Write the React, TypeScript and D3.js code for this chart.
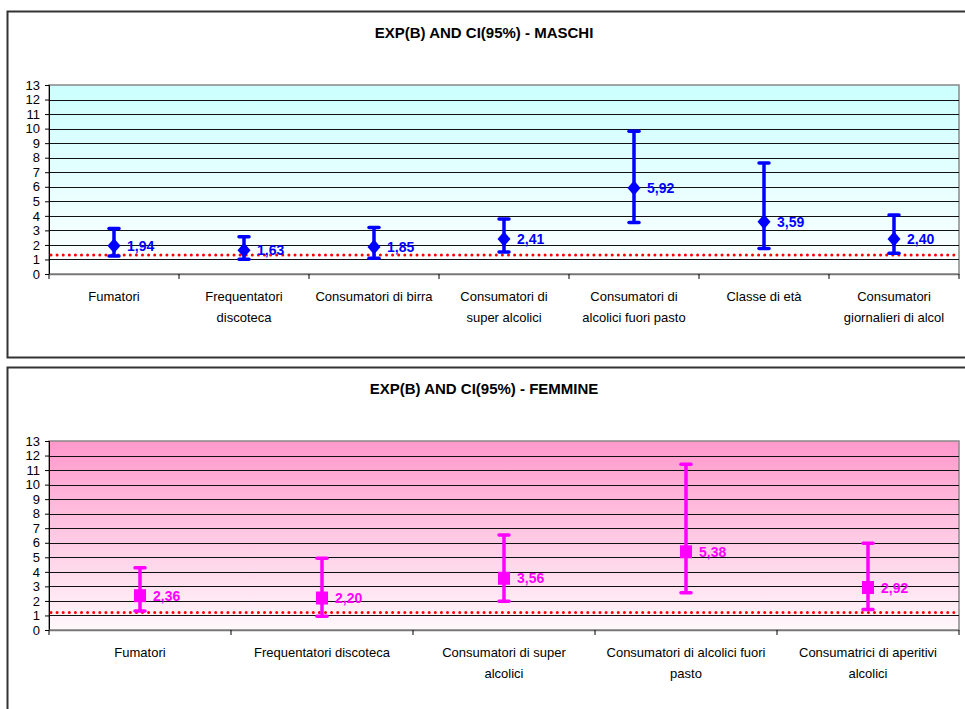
import React, { useRef, useEffect } from 'react';
import * as d3 from 'd3';

// males
const maleCategories = [
  'Fumatori',
  'Frequentatori\ndiscoteca',
  'Consumatori di birra',
  'Consumatori di\nsuper alcolici',
  'Consumatori di\nalcolici fuori pasto',
  'Classe di età',
  'Consumatori\ngiornalieri di alcol',
];
const maleExp = [1.94, 1.63, 1.85, 2.41, 5.92, 3.59, 2.40];
const maleLow = [1.24, 1.02, 1.08, 1.52, 3.55, 1.75, 1.43];
const maleHigh = [3.13, 2.56, 3.2, 3.78, 9.82, 7.63, 4.06];
const maleRef = 1.3;

// females
const femaleCategories = [
  'Fumatori',
  'Frequentatori discoteca',
  'Consumatori di super\nalcolici',
  'Consumatori di alcolici fuori\npasto',
  'Consumatrici di aperitivi\nalcolici',
];
const femaleExp = [2.36, 2.20, 3.56, 5.38, 2.92];
const femaleLow = [1.3, 0.95, 1.98, 2.57, 1.41];
const femaleHigh = [4.28, 4.94, 6.53, 11.4, 5.97];
const femaleRef = 1.2;

const yTicks = d3.range(0, 14);

const FONT = 'Arial, "Liberation Sans", sans-serif';

interface PanelOpts {
  top: number;
  title: string;
  cats: string[];
  exp: number[];
  low: number[];
  high: number[];
  refVal: number;
  color: string;
  gradTop: string;
  gradBottom: string;
  marker: 'diamond' | 'square';
  gradId: string;
}

function drawPanel(svg: d3.Selection<SVGSVGElement, unknown, null, undefined>, o: PanelOpts) {
  const plotLeft = 49;
  const plotRight = 959;
  const plotTop = o.top + 74;
  const plotBottom = o.top + 263;

  const g = svg.append('g');

  // panel frame
  g.append('rect')
    .attr('x', 7.5).attr('y', o.top + 0.5)
    .attr('width', 975).attr('height', 346)
    .attr('fill', '#fff')
    .attr('stroke', '#333').attr('stroke-width', 2);

  g.append('text')
    .attr('x', 484).attr('y', o.top + 27)
    .attr('text-anchor', 'middle')
    .attr('font-family', FONT).attr('font-size', 15).attr('font-weight', 'bold')
    .text(o.title);

  const x = d3.scaleBand().domain(o.cats).range([plotLeft, plotRight]);
  const y = d3.scaleLinear().domain([0, 13]).range([plotBottom, plotTop]);

  const defs = svg.append('defs');
  const grad = defs.append('linearGradient').attr('id', o.gradId)
    .attr('x1', 0).attr('y1', 0).attr('x2', 0).attr('y2', 1);
  grad.append('stop').attr('offset', '0%').attr('stop-color', o.gradTop);
  grad.append('stop').attr('offset', '100%').attr('stop-color', o.gradBottom);

  g.append('rect')
    .attr('x', plotLeft).attr('y', plotTop)
    .attr('width', plotRight - plotLeft).attr('height', plotBottom - plotTop)
    .attr('fill', `url(#${o.gradId})`)
    .attr('stroke', '#888').attr('stroke-width', 1.5);

  // grid lines
  g.selectAll('line.grid')
    .data(yTicks.filter(t => t > 0 && t < 13))
    .enter().append('line')
    .attr('x1', plotLeft).attr('x2', plotRight)
    .attr('y1', d => Math.round(y(d)) + 0.5).attr('y2', d => Math.round(y(d)) + 0.5)
    .attr('stroke', '#111').attr('stroke-width', 1);

  // y axis
  const yAxis = d3.axisLeft(y).tickValues(yTicks).tickSize(4).tickPadding(5);
  const ya = g.append('g').attr('transform', `translate(${plotLeft},0)`).call(yAxis);
  ya.select('.domain').attr('stroke', '#000');
  ya.selectAll('text').attr('font-family', FONT).attr('font-size', 13).attr('fill', '#000');

  // x axis
  const xa = g.append('g').attr('transform', `translate(0,${plotBottom})`);
  xa.append('line').attr('x1', plotLeft).attr('x2', plotRight)
    .attr('y1', 0.5).attr('y2', 0.5).attr('stroke', '#777').attr('stroke-width', 1.5);
  const bounds = o.cats.map(c => x(c) as number).concat([plotRight]);
  xa.selectAll('line.tk').data(bounds).enter().append('line')
    .attr('x1', d => d).attr('x2', d => d).attr('y1', 0).attr('y2', 5)
    .attr('stroke', '#000');
  o.cats.forEach(c => {
    const cx = (x(c) as number) + x.bandwidth() / 2;
    const t = xa.append('text')
      .attr('text-anchor', 'middle')
      .attr('font-family', FONT).attr('font-size', 13).attr('fill', '#000');
    c.split('\n').forEach((line, i) => {
      t.append('tspan').attr('x', cx).attr('y', 27 + i * 21).text(line);
    });
  });

  // reference line
  g.append('line')
    .attr('x1', plotLeft + 2).attr('x2', plotRight)
    .attr('y1', y(o.refVal)).attr('y2', y(o.refVal))
    .attr('stroke', '#ff0000').attr('stroke-width', 3)
    .attr('stroke-linecap', 'round')
    .attr('stroke-dasharray', '0,6.1');

  // error bars
  o.cats.forEach((c, i) => {
    const cx = (x(c) as number) + x.bandwidth() / 2;
    const eg = g.append('g');
    eg.append('line').attr('x1', cx).attr('x2', cx)
      .attr('y1', y(o.low[i])).attr('y2', y(o.high[i]))
      .attr('stroke', o.color).attr('stroke-width', 3.5);
    [o.low[i], o.high[i]].forEach(v => {
      eg.append('line').attr('x1', cx - 5).attr('x2', cx + 5)
        .attr('y1', y(v)).attr('y2', y(v))
        .attr('stroke', o.color).attr('stroke-width', 3.5)
        .attr('stroke-linecap', 'round');
    });
    const cy = y(o.exp[i]);
    if (o.marker === 'diamond') {
      eg.append('path')
        .attr('d', `M${cx},${cy - 7.5}L${cx + 6.5},${cy}L${cx},${cy + 7.5}L${cx - 6.5},${cy}Z`)
        .attr('fill', o.color);
    } else {
      eg.append('rect').attr('x', cx - 6).attr('y', cy - 6.5)
        .attr('width', 12).attr('height', 13).attr('fill', o.color);
    }
    eg.append('text')
      .attr('x', cx + 13).attr('y', cy + 5)
      .attr('font-family', FONT).attr('font-size', 14).attr('font-weight', 'bold')
      .attr('fill', o.color)
      .text(d3.format('.2f')(o.exp[i]).replace('.', ','));
  });
}

export default function App() {
  const svgRef = useRef<SVGSVGElement>(null);

  useEffect(() => {
    if (!svgRef.current) return;
    const svg = d3.select(svgRef.current);
    svg.selectAll('*').remove();

    drawPanel(svg, {
      top: 11, title: 'EXP(B) AND CI(95%) - MASCHI',
      cats: maleCategories, exp: maleExp, low: maleLow, high: maleHigh,
      refVal: maleRef, color: '#0000ff', gradTop: '#ccffff', gradBottom: '#ffffff',
      marker: 'diamond', gradId: 'gradM',
    });
    drawPanel(svg, {
      top: 367, title: 'EXP(B) AND CI(95%) - FEMMINE',
      cats: femaleCategories, exp: femaleExp, low: femaleLow, high: femaleHigh,
      refVal: femaleRef, color: '#ff00ff', gradTop: '#ff99cc', gradBottom: '#fff8fb',
      marker: 'square', gradId: 'gradF',
    });
  }, []);

  return (
    <svg ref={svgRef} width={965} height={709}
      style={{ position: 'absolute', left: 0, top: 0, background: '#fff' }} />
  );
}
